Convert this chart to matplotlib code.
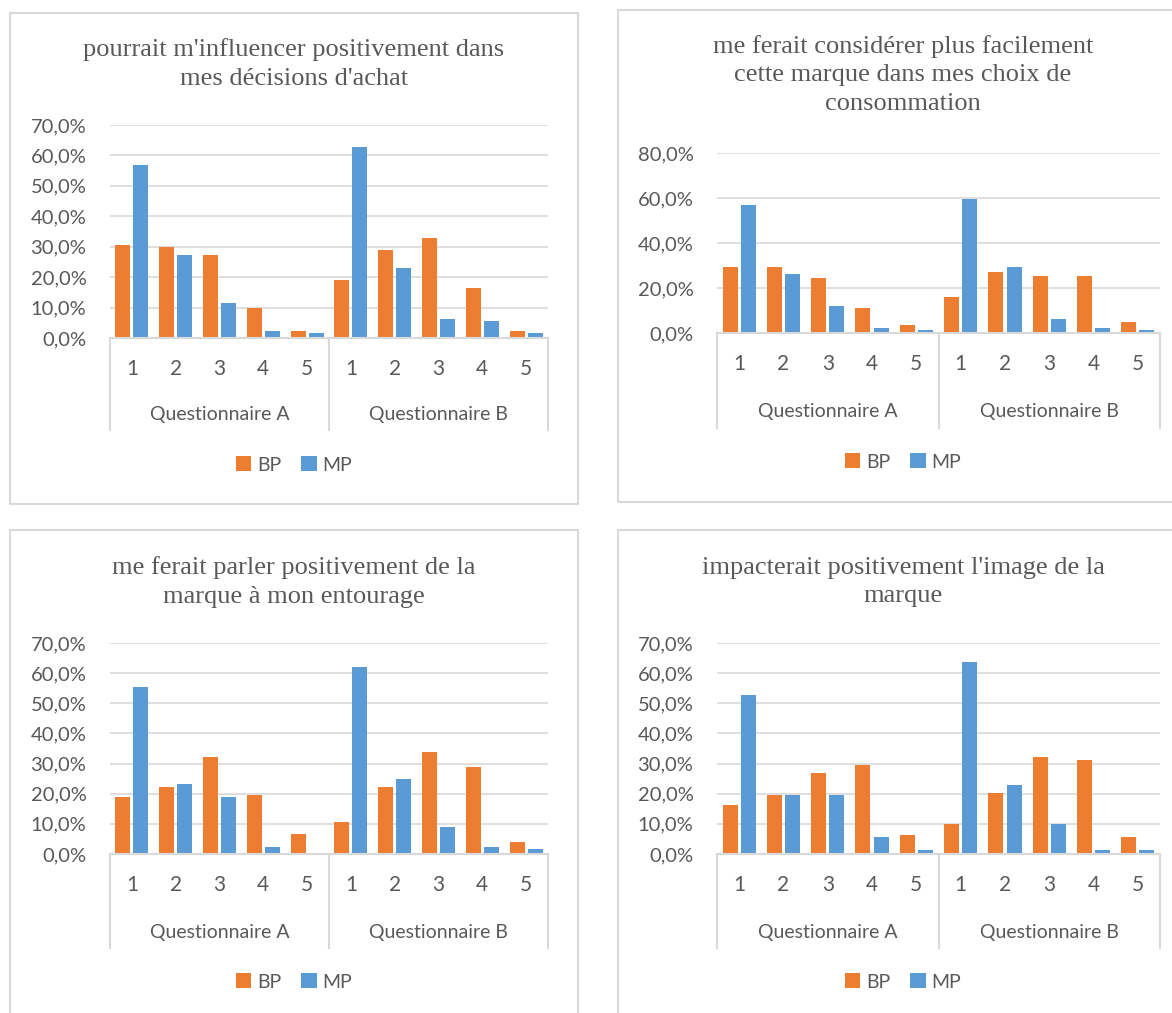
import matplotlib
matplotlib.use("Agg")
import matplotlib.pyplot as plt
import matplotlib.transforms as mtransforms
from matplotlib.patches import Rectangle
import numpy as np

# Data
titles = [
    "pourrait m'influencer positivement dans\nmes décisions d'achat",
    "me ferait considérer plus facilement\ncette marque dans mes choix de\nconsommation",
    "me ferait parler positivement de la\nmarque à mon entourage",
    "impacterait positivement l'image de la\nmarque",
]
groups = ["Questionnaire A", "Questionnaire B"]
scores = ["1", "2", "3", "4", "5"]

bp_1 = [30.4, 29.8, 27.2, 9.7, 2.3, 18.9, 29.0, 33.0, 16.4, 2.3]
mp_1 = [57.0, 27.2, 11.5, 2.3, 1.5, 62.9, 23.0, 6.4, 5.6, 1.5]
bp_2 = [29.5, 29.5, 24.6, 11.2, 3.7, 16.2, 27.3, 25.5, 25.5, 4.7]
mp_2 = [56.9, 26.2, 12.2, 2.1, 1.2, 59.5, 29.5, 6.3, 2.1, 1.2]
bp_3 = [18.9, 22.2, 32.2, 19.7, 6.5, 10.5, 22.2, 33.8, 28.9, 4.0]
mp_3 = [55.3, 23.1, 18.9, 2.3, 0.0, 61.9, 24.8, 9.1, 2.3, 1.7]
bp_4 = [16.4, 19.6, 27.0, 29.6, 6.4, 10.0, 20.4, 32.1, 31.3, 5.5]
mp_4 = [52.7, 19.6, 19.6, 5.5, 1.4, 63.7, 23.0, 10.0, 1.4, 1.4]

W, H = 1172, 1013
ORANGE = "#ED7D31"
BLUE = "#5B9BD5"
GRID = "#D9D9D9"
TXT = "#595959"
SANS = ["Lato", "DejaVu Sans"]
SERIF = ["Liberation Serif", "DejaVu Serif"]


def fx(x):
    return x / W


def fy(y):
    return 1 - y / H


fig = plt.figure(figsize=(W / 100, H / 100), dpi=100)

# panel frame, plot box and text rows (pixels from top-left)
panels = [
    dict(frame=(10, 13, 578, 504), cx=294, plot=(110, 548, 125, 338), ymax=70, step=10,
         title_y=64, num_y=369, grp_y=414, box_bottom=430, leg_y=465),
    dict(frame=(618, 10, 1190, 502), cx=903, plot=(717, 1160, 153, 333), ymax=80, step=20,
         title_y=75, num_y=364, grp_y=412, box_bottom=428, leg_y=462),
    dict(frame=(10, 530, 578, 1030), cx=294, plot=(110, 548, 643, 854), ymax=70, step=10,
         title_y=582, num_y=885, grp_y=932, box_bottom=948, leg_y=982),
    dict(frame=(618, 530, 1190, 1030), cx=903, plot=(717, 1160, 643, 854), ymax=70, step=10,
         title_y=582, num_y=885, grp_y=932, box_bottom=948, leg_y=982),
]
series = [(bp_1, mp_1), (bp_2, mp_2), (bp_3, mp_3), (bp_4, mp_4)]

x = np.arange(10)
for p, (bp, mp), title in zip(panels, series, titles):
    x0, y0, x1, y1 = p["frame"]
    fig.patches.append(Rectangle((fx(x0), fy(y1)), (x1 - x0) / W, (y1 - y0) / H,
                                 transform=fig.transFigure, fill=False,
                                 edgecolor=GRID, linewidth=1.5))

    left, right, top, zero = p["plot"]
    ax = fig.add_axes([fx(left), fy(zero), (right - left) / W, (zero - top) / H])
    b1 = ax.bar(x - 0.205, bp, 0.34, color=ORANGE, label="BP", zorder=3)
    b2 = ax.bar(x + 0.205, mp, 0.34, color=BLUE, label="MP", zorder=3)
    ax.set_xlim(-0.5, 9.5)
    ax.set_ylim(0, p["ymax"])
    ticks = np.arange(0, p["ymax"] + 1, p["step"])
    ax.set_yticks(ticks)
    ax.set_yticklabels([f"{t:.1f}%".replace(".", ",") for t in ticks],
                       fontsize=14.5, color=TXT, family=SANS)
    ax.tick_params(axis="y", length=0, pad=17)
    ax.set_xticks([])
    ax.yaxis.grid(True, color=GRID, linewidth=1.2, zorder=0)
    for s in ax.spines.values():
        s.set_visible(False)
    ax.axhline(0, color=GRID, linewidth=1.5, zorder=4, clip_on=False)

    # two-level category axis
    tr = mtransforms.blended_transform_factory(ax.transData, fig.transFigure)
    for xv in (-0.5, 4.5, 9.5):
        ax.plot([xv, xv], [fy(zero), fy(p["box_bottom"])], transform=tr,
                color=GRID, linewidth=1.5, clip_on=False)
    for i in range(10):
        ax.text(i, fy(p["num_y"]), scores[i % 5], transform=tr, ha="center",
                va="center", fontsize=15, color=TXT, family=SANS)
    for g, name in enumerate(groups):
        ax.text(2 + 5 * g, fy(p["grp_y"]), name, transform=tr, ha="center",
                va="center", fontsize=14, color=TXT, family=SANS)

    fig.text(fx(p["cx"]), fy(p["title_y"]), title, ha="center", va="center",
             fontsize=19, color=TXT, family=SERIF, linespacing=1.4)

    leg = ax.legend(handles=[b1, b2], loc="center", bbox_to_anchor=(fx(p["cx"]), fy(p["leg_y"])),
                    bbox_transform=fig.transFigure, ncol=2, frameon=False,
                    handlelength=0.8, handleheight=0.8, handletextpad=0.3,
                    columnspacing=1.0, prop={"family": SANS, "size": 14})
    for t in leg.get_texts():
        t.set_color(TXT)

fig.savefig("out.png", dpi=100)
